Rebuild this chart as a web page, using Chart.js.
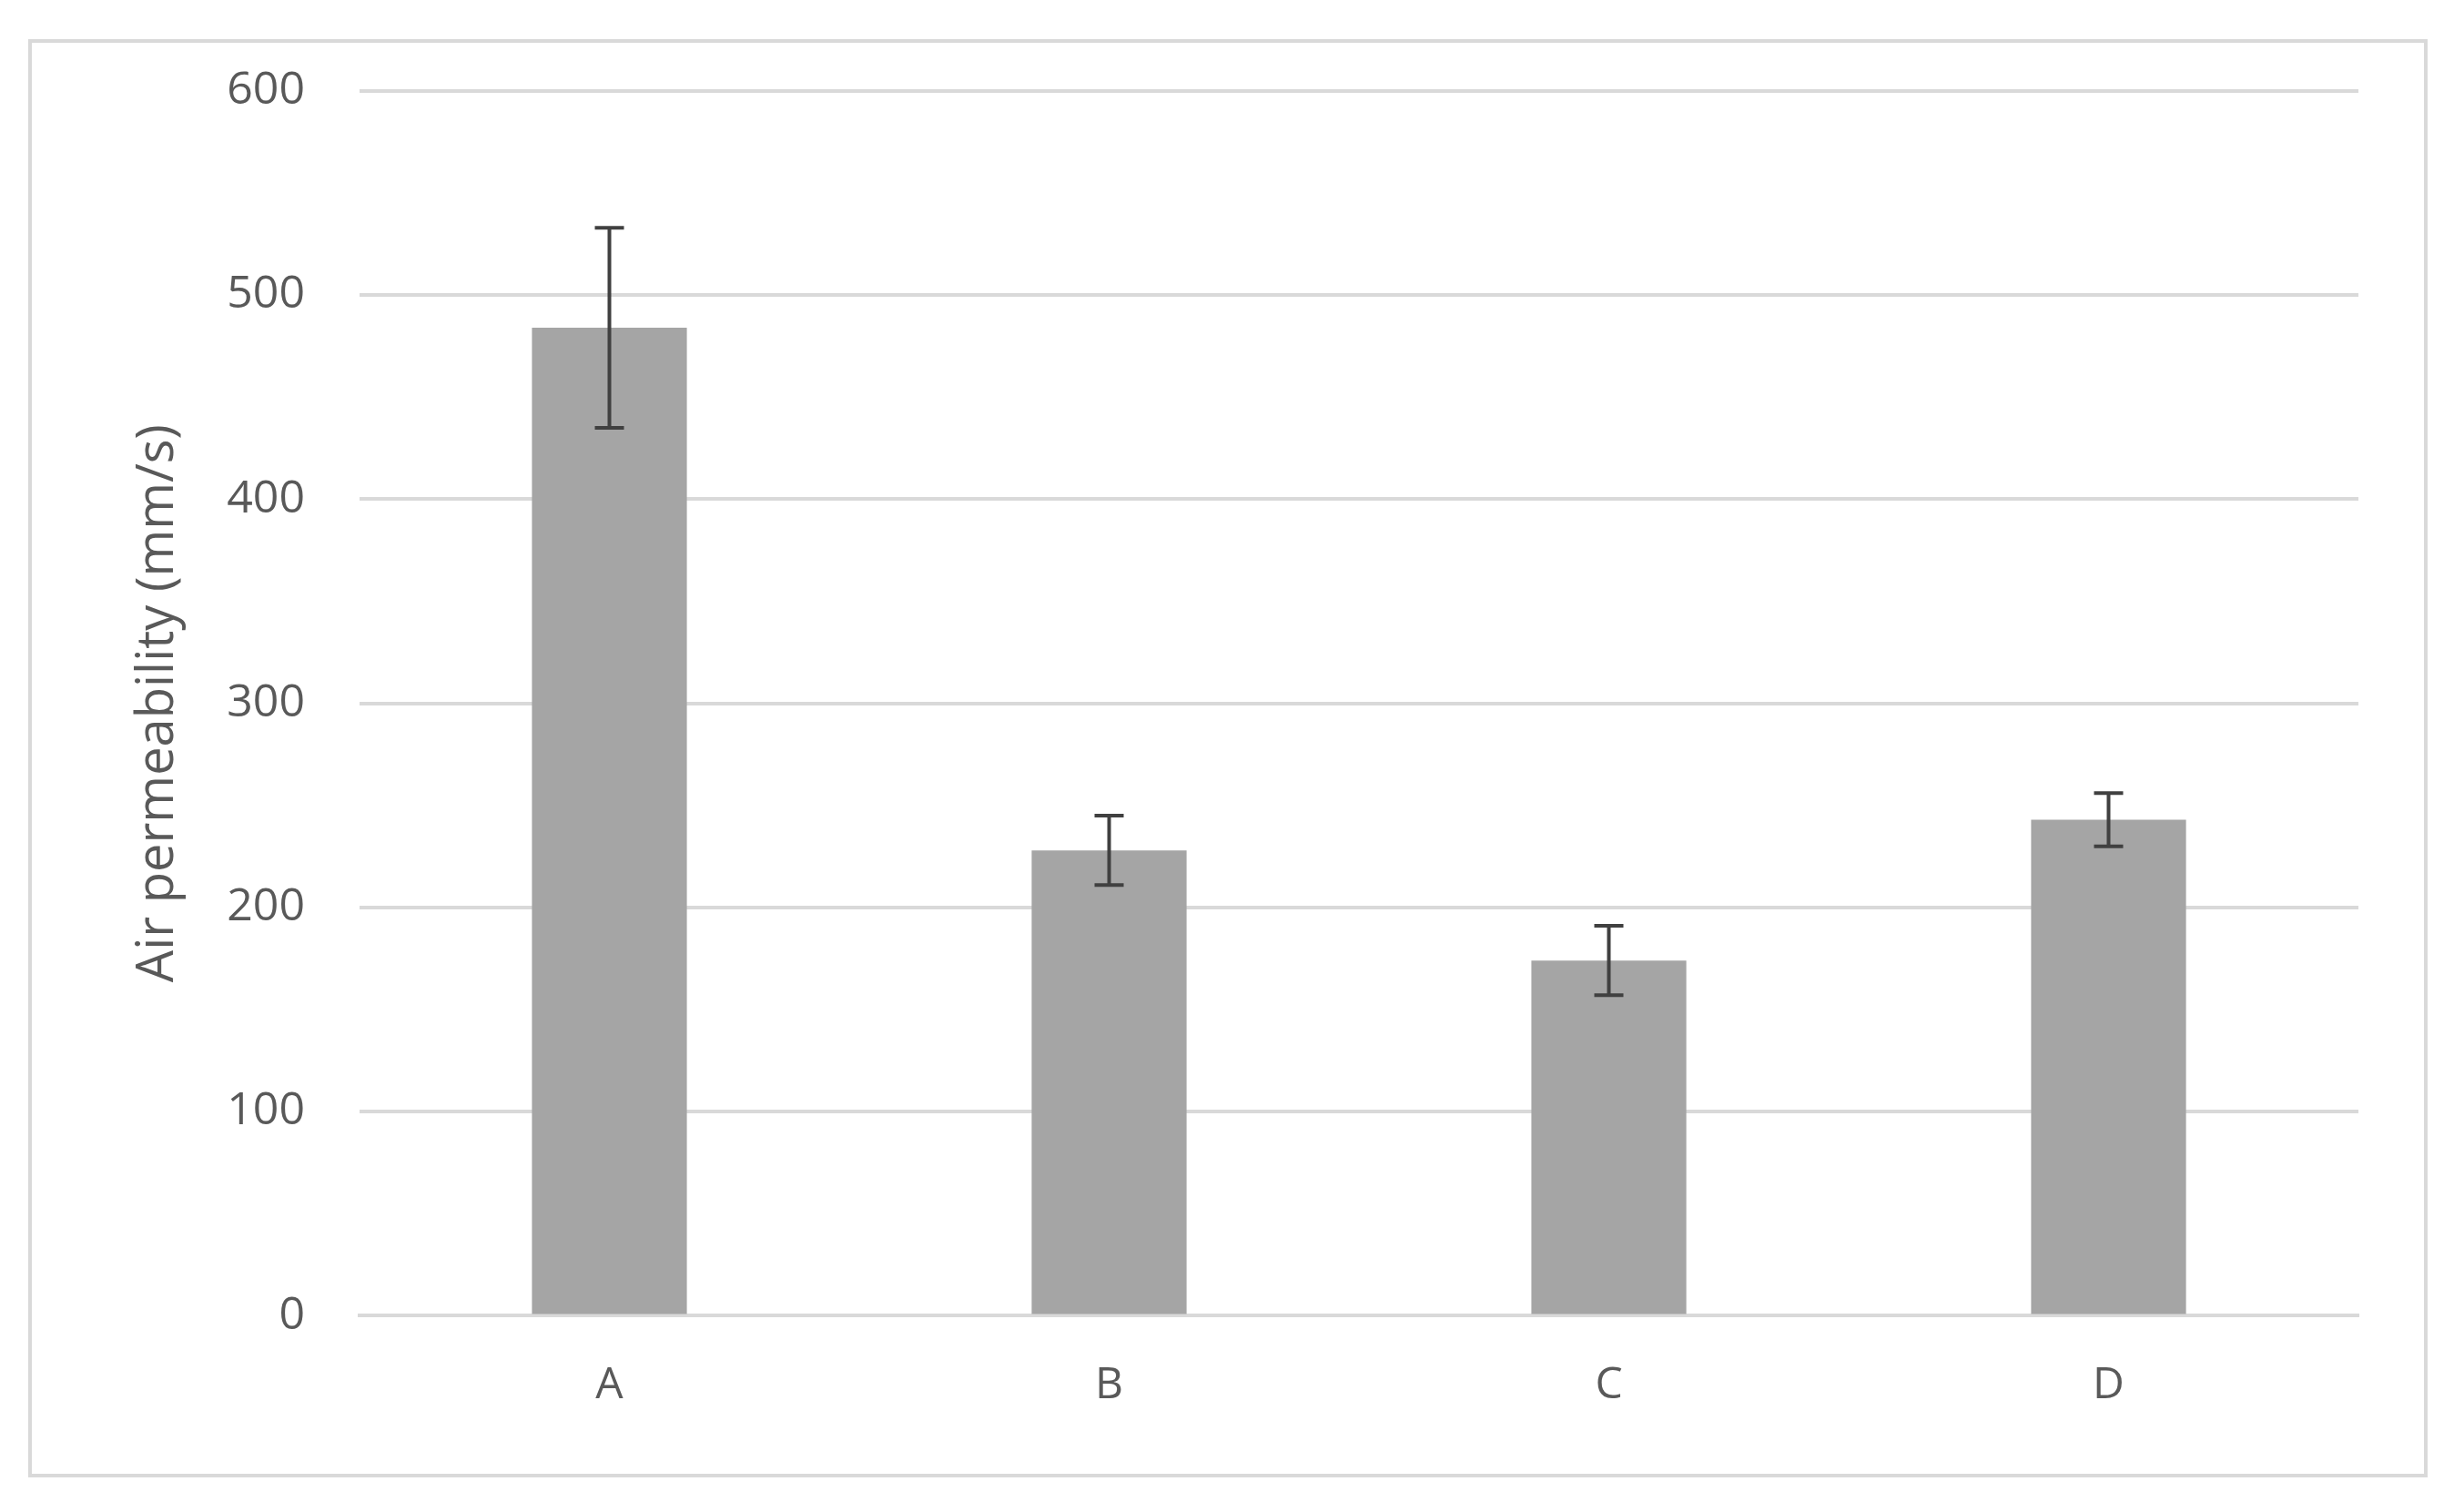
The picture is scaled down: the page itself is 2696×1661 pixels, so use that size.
<!DOCTYPE html>
<html>
<head>
<meta charset="utf-8">
<script src="https://cdn.jsdelivr.net/npm/chart.js@4"></script>
<style>
  html, body { margin: 0; padding: 0; background: #fff; }
  #wrap { position: relative; width: 2696px; height: 1661px; }
  #frame { position: absolute; left: 31px; top: 43px; width: 2636px; height: 1580px; border: 4px solid #d9d9d9; box-sizing: border-box; }
  canvas { position: absolute; left: 0; top: 0; }
</style>
</head>
<body>
<div id="wrap">
  <div id="frame"></div>
  <canvas id="chart" width="2696" height="1661"></canvas>
</div>
<script>
const categories = ["A", "B", "C", "D"];
const meanValues = [484, 228, 174, 243];
const errorValues = [49, 17, 17, 13];
const yTicks = [0, 100, 200, 300, 400, 500, 600];

// draws the +/- error bars on top of each bar
const errorBars = {
  id: "errorBars",
  afterDatasetsDraw(chart) {
    const ctx = chart.ctx;
    const y = chart.scales.y;
    const meta = chart.getDatasetMeta(0);
    ctx.save();
    ctx.strokeStyle = "#404040";
    ctx.lineWidth = 4;
    meta.data.forEach((bar, i) => {
      const top = y.getPixelForValue(meanValues[i] + errorValues[i]);
      const bot = y.getPixelForValue(meanValues[i] - errorValues[i]);
      const x = bar.x;
      ctx.beginPath();
      ctx.moveTo(x, top); ctx.lineTo(x, bot);
      ctx.moveTo(x - 16, top); ctx.lineTo(x + 16, top);
      ctx.moveTo(x - 16, bot); ctx.lineTo(x + 16, bot);
      ctx.stroke();
    });
    ctx.restore();
  }
};

new Chart(document.getElementById("chart"), {
  type: "bar",
  data: {
    labels: categories,
    datasets: [{
      data: meanValues,
      backgroundColor: "#a5a5a5",
      categoryPercentage: 1,
      barPercentage: 0.31
    }]
  },
  plugins: [errorBars],
  options: {
    responsive: false,
    animation: false,
    devicePixelRatio: 1,
    layout: { padding: { left: 140, right: 105, top: 100, bottom: 70 } },
    plugins: { legend: { display: false }, tooltip: { enabled: false } },
    scales: {
      x: {
        grid: { display: false },
        border: { color: "#d9d9d9", width: 4 },
        ticks: { color: "#595959", font: { family: "Open Sans", size: 48 }, padding: 40 }
      },
      y: {
        min: 0, max: 600,
        afterBuildTicks: s => { s.ticks = yTicks.map(v => ({ value: v })); },
        afterFit: s => { s.width = 255; },
        grid: { color: "#d9d9d9", lineWidth: 4, drawTicks: false },
        border: { display: false },
        ticks: { color: "#595959", font: { family: "Open Sans", size: 50 }, padding: 60 },
        title: {
          display: true,
          text: "Air permeability (mm/s)",
          color: "#595959",
          font: { family: "Open Sans", size: 56 },
          padding: 0
        }
      }
    }
  }
});
</script>
</body>
</html>
